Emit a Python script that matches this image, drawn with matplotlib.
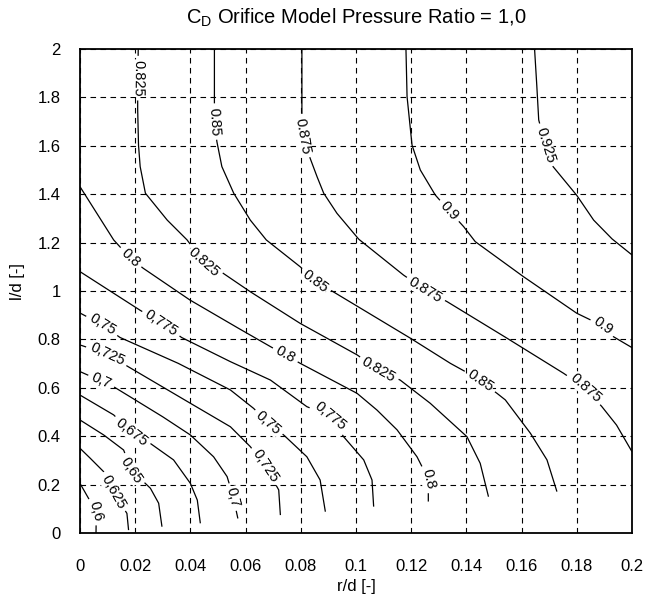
import matplotlib
matplotlib.use("Agg")
import matplotlib.pyplot as plt
from matplotlib.contour import ContourSet
import numpy as np

plt.rcParams['font.family'] = ['Liberation Sans', 'DejaVu Sans']
plt.rcParams['mathtext.default'] = 'regular'

# contour levels of C_D and the traced isolines (r/d, l/d)
levels = [0.6, 0.625, 0.65, 0.675, 0.7, 0.725, 0.75, 0.775,
          0.8, 0.825, 0.85, 0.875, 0.9, 0.925]

r_600 = [0.0, 0.0031, 0.0059, 0.0058]
l_600 = [0.205, 0.143, 0.09, 0.0]
r_625 = [0.0, 0.0037, 0.0086, 0.0121, 0.017, 0.0176]
l_625 = [0.35, 0.309, 0.253, 0.169, 0.081, 0.012]
r_650 = [0.0, 0.0086, 0.0158, 0.0186, 0.0255, 0.0285, 0.0297]
l_650 = [0.467, 0.405, 0.343, 0.26, 0.185, 0.123, 0.026]
r_675 = [0.0, 0.0122, 0.0186, 0.0255, 0.0339, 0.04, 0.0425, 0.0436]
l_675 = [0.57, 0.488, 0.417, 0.37, 0.302, 0.205, 0.136, 0.04]
r_700 = [0.0, 0.0077, 0.0121, 0.02, 0.03, 0.04, 0.0484, 0.0533, 0.0555, 0.0572]
l_700 = [0.667, 0.628, 0.605, 0.55, 0.48, 0.405, 0.315, 0.233, 0.149, 0.06]
r_725 = [0.0, 0.0099, 0.0175, 0.04, 0.0545, 0.0617, 0.0671, 0.072, 0.0726]
l_725 = [0.777, 0.74, 0.687, 0.536, 0.439, 0.357, 0.277, 0.178, 0.074]
r_750 = [0.0, 0.0081, 0.0145, 0.0356, 0.0545, 0.0629, 0.0682, 0.0738, 0.0822, 0.087, 0.0889]
l_750 = [0.909, 0.86, 0.808, 0.701, 0.591, 0.515, 0.455, 0.405, 0.315, 0.219, 0.088]
r_775 = [0.0, 0.0217, 0.0295, 0.0368, 0.0545, 0.069, 0.0822, 0.0907, 0.0955, 0.1028, 0.1058, 0.1064]
l_775 = [1.08, 0.921, 0.868, 0.808, 0.708, 0.632, 0.522, 0.483, 0.398, 0.302, 0.219, 0.109]
r_800 = [0.0, 0.0122, 0.0182, 0.0229, 0.0398, 0.0574, 0.0701, 0.0744, 0.0798, 0.1004,
         0.1076, 0.1149, 0.1221, 0.1262, 0.1262]
l_800 = [1.431, 1.211, 1.136, 1.094, 0.963, 0.846, 0.763, 0.736, 0.701, 0.577,
         0.508, 0.426, 0.315, 0.223, 0.13]
r_825 = [0.0211, 0.0209, 0.0209, 0.0212, 0.0218, 0.0237, 0.0316, 0.0388, 0.0447, 0.0519, 0.0617,
         0.0798, 0.1004, 0.1081, 0.116, 0.1269, 0.1402, 0.145, 0.148]
l_825 = [2.0, 1.85, 1.75, 1.603, 1.514, 1.404, 1.293, 1.211, 1.12, 1.073, 0.997,
         0.866, 0.736, 0.674, 0.632, 0.536, 0.398, 0.288, 0.15]
r_850 = [0.0487, 0.0487, 0.0487, 0.0496, 0.0514, 0.0557, 0.0617, 0.0675, 0.0798, 0.0853, 0.0907,
         0.1197, 0.1342, 0.1396, 0.145, 0.1511, 0.1541, 0.1632, 0.1692, 0.1728]
l_850 = [2.0, 1.782, 1.7, 1.617, 1.514, 1.404, 1.293, 1.211, 1.1, 1.041, 1.004,
         0.805, 0.701, 0.667, 0.628, 0.577, 0.55, 0.412, 0.302, 0.171]
r_875 = [0.0804, 0.0804, 0.0806, 0.0834, 0.0859, 0.0883, 0.0931, 0.101, 0.1172, 0.1251, 0.133,
         0.1547, 0.1752, 0.1831, 0.1891, 0.1944, 0.2]
l_875 = [2.0, 1.741, 1.64, 1.548, 1.472, 1.404, 1.321, 1.214, 1.066, 1.004, 0.956,
         0.805, 0.66, 0.599, 0.522, 0.446, 0.336]
r_900 = [0.1181, 0.1185, 0.1203, 0.1233, 0.1287, 0.1338, 0.139, 0.1432, 0.1607, 0.18, 0.1896,
         0.1933, 0.2]
l_900 = [2.0, 1.803, 1.603, 1.5, 1.397, 1.331, 1.266, 1.204, 1.059, 0.908, 0.855,
         0.811, 0.766]
r_925 = [0.1647, 0.1655, 0.1662, 0.1686, 0.1714, 0.18, 0.1861, 0.1928, 0.2]
l_925 = [2.0, 1.85, 1.707, 1.603, 1.514, 1.395, 1.293, 1.215, 1.149]

lines_r = [r_600, r_625, r_650, r_675, r_700, r_725, r_750, r_775,
           r_800, r_825, r_850, r_875, r_900, r_925]
lines_l = [l_600, l_625, l_650, l_675, l_700, l_725, l_750, l_775,
           l_800, l_825, l_850, l_875, l_900, l_925]

# where the inline labels sit
label_pos = [(0.0185, 1.88), (0.0487, 1.70), (0.0806, 1.64), (0.1686, 1.603), (0.1338, 1.331),
             (0.0182, 1.136), (0.0447, 1.12), (0.0853, 1.041), (0.1251, 1.004), (0.1896, 0.855),
             (0.0295, 0.868), (0.0081, 0.86), (0.0099, 0.74), (0.0077, 0.628),
             (0.0744, 0.736), (0.1081, 0.674), (0.145, 0.628), (0.1831, 0.599),
             (0.0907, 0.483), (0.0682, 0.455), (0.0671, 0.277), (0.0555, 0.149),
             (0.0186, 0.417), (0.0186, 0.26), (0.0121, 0.169), (0.0059, 0.09), (0.1262, 0.223)]

x_ticks = [0, 0.02, 0.04, 0.06, 0.08, 0.1, 0.12, 0.14, 0.16, 0.18, 0.2]
x_ticklabels = ["0", "0.02", "0.04", "0.06", "0.08", "0.1", "0.12", "0.14", "0.16", "0.18", "0.2"]
y_ticks = [0, 0.2, 0.4, 0.6, 0.8, 1.0, 1.2, 1.4, 1.6, 1.8, 2.0]
y_ticklabels = ["0", "0.2", "0.4", "0.6", "0.8", "1", "1.2", "1.4", "1.6", "1.8", "2"]


def fmt(v):
    s = f"{v:g}"
    return s.replace('.', ',') if v < 0.8 else s


fig = plt.figure(figsize=(6.46, 5.98), dpi=100)
ax = fig.add_axes([80 / 646, 1 - 533 / 598, 552 / 646, 484 / 598])
ax.set_xlim(0, 0.2)
ax.set_ylim(0, 2)

ax.set_xticks(x_ticks)
ax.set_xticklabels(x_ticklabels)
ax.set_yticks(y_ticks)
ax.set_yticklabels(y_ticklabels)
ax.tick_params(length=0, labelsize=12)
ax.tick_params(axis='x', pad=19)
ax.tick_params(axis='y', pad=14)
ax.grid(True, color='k', linestyle=(0, (5, 4)), linewidth=0.8)
ax.set_axisbelow(True)
for s in ax.spines.values():
    s.set_linewidth(1.3)

segs = [[np.column_stack([r, l])] for r, l in zip(lines_r, lines_l)]
cs = ContourSet(ax, levels, segs, colors='k', linewidths=0.9)
texts = ax.clabel(cs, fmt=fmt, fontsize=10.5, inline=True, inline_spacing=4,
                  manual=label_pos)
for t in texts:
    rot = t.get_rotation()
    if 45 < rot < 135:
        t.set_rotation(rot + 180)
    t.set_bbox(dict(facecolor='white', edgecolor='none', pad=0.3))
    t.set_zorder(5)

ax.set_title("C$_D$ Orifice Model Pressure Ratio = 1,0", fontsize=14.5, pad=18)
ax.set_xlabel("r/d [-]", fontsize=12, labelpad=3)
ax.set_ylabel("l/d [-]", fontsize=12, labelpad=8)
ax.yaxis.set_label_coords(-0.1, 0.52)

fig.savefig("out.png", dpi=100)
